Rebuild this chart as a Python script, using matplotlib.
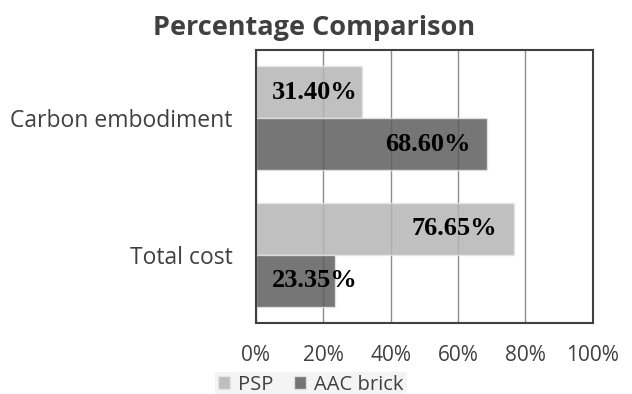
import matplotlib
matplotlib.use("Agg")
import matplotlib.pyplot as plt
from matplotlib.ticker import PercentFormatter
import numpy as np

categories = ["Total cost", "Carbon embodiment"]
series_names = ["PSP", "AAC brick"]
psp = [76.65, 31.40]
aac = [23.35, 68.60]
xticks = [0, 20, 40, 60, 80, 100]

fig = plt.figure(figsize=(6.32, 3.94), dpi=100)
ax = fig.add_axes([0.405, 0.180, 0.533, 0.693])

y = np.arange(len(categories))
h = 0.38
light = "#b5b5b5"
dark = "#5e5e5e"
b1 = ax.barh(y + h / 2, psp, height=h, color=light, alpha=0.85, edgecolor="#e6e6e6", linewidth=1, zorder=2, label=series_names[0])
b2 = ax.barh(y - h / 2, aac, height=h, color=dark, alpha=0.85, edgecolor="#e6e6e6", linewidth=1, zorder=2, label=series_names[1])

lab_font = dict(family=["Liberation Serif", "DejaVu Serif"], fontweight="bold", fontsize=19, color="black", va="center", zorder=5)
for vals, yy in ((psp, y + h / 2), (aac, y - h / 2)):
    for v, yc in zip(vals, yy):
        if v > 50:
            ax.text(v - 5, yc, f"{v:.2f}%", ha="right", **lab_font)
        else:
            ax.text(4.7, yc, f"{v:.2f}%", ha="left", **lab_font)

ax.set_xlim(0, 100)
ax.set_ylim(-0.5, 1.5)
ax.set_xticks(xticks)
ax.xaxis.set_major_formatter(PercentFormatter(decimals=0))
ax.set_yticks(y)
ax.set_yticklabels(categories)
ax.grid(axis="x", color="#8c8c8c", linewidth=1, zorder=1)
ax.set_axisbelow(True)
for s in ax.spines.values():
    s.set_color("#404040")
    s.set_linewidth(1.5)
ax.tick_params(axis="x", length=0, pad=16, labelsize=15, labelcolor="#404040")
ax.tick_params(axis="y", length=0, pad=17, labelsize=16.5, labelcolor="#404040")
for lbl in ax.get_xticklabels() + ax.get_yticklabels():
    lbl.set_fontfamily(["Open Sans", "DejaVu Sans"])

fig.text(0.497, 0.930, "Percentage Comparison", ha="center", va="center", fontsize=19.5, fontweight="bold",
         color="#404040", family=["Open Sans", "DejaVu Sans"])

leg = fig.legend(handles=[b1, b2], labels=series_names, loc="center", bbox_to_anchor=(0.492, 0.024), ncol=2,
                 frameon=True, fancybox=False, facecolor="#f4f4f4", edgecolor="none", framealpha=1,
                 prop={"family": ["Open Sans", "DejaVu Sans"], "size": 14.5}, handlelength=0.6, handleheight=0.6,
                 handletextpad=0.4, columnspacing=1.0, borderpad=0.15)
for t in leg.get_texts():
    t.set_color("#404040")

fig.savefig("out.png", dpi=100)
